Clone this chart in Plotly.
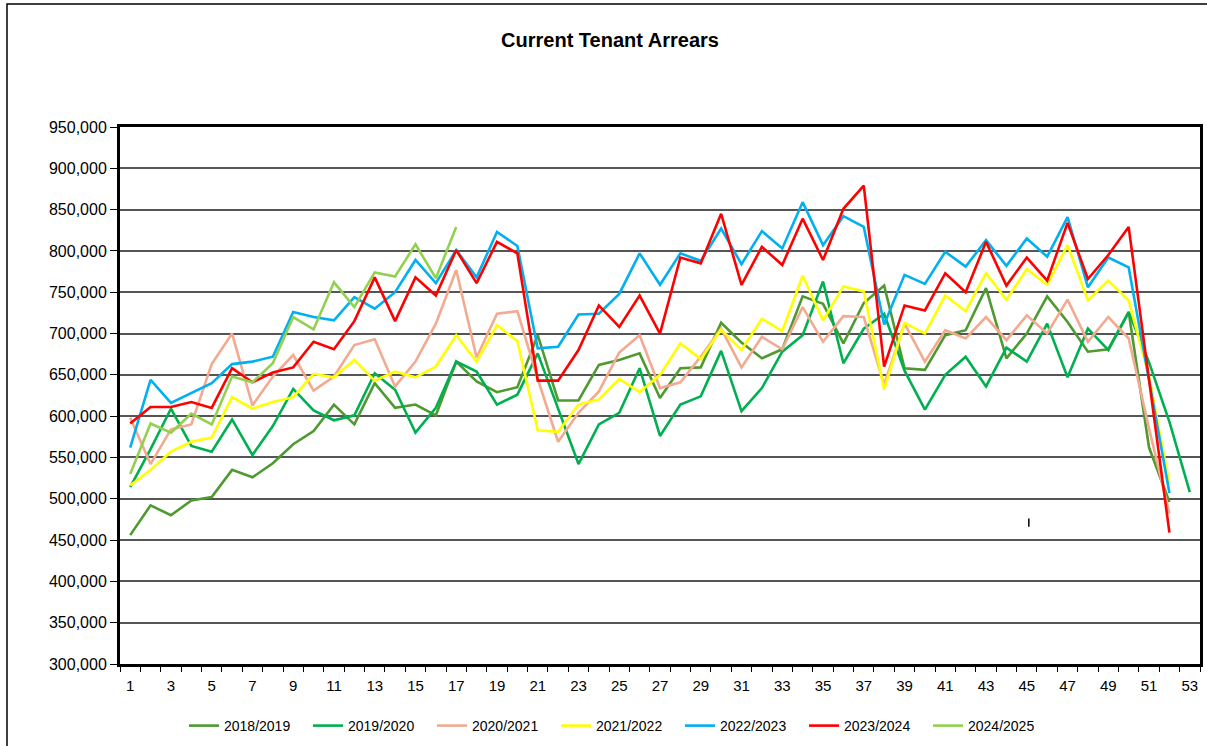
import plotly.graph_objects as go

weeks52 = list(range(1, 53))
weeks53 = list(range(1, 54))

s2018 = [456, 492, 480, 498, 502, 535, 526, 543, 566, 582, 614, 590, 640, 610, 614, 601, 666, 642, 629, 635,
         698, 619, 619, 662, 668, 676, 622, 658, 659, 713, 689, 670, 681, 745, 736, 688, 737, 758, 658, 656,
         698, 704, 755, 670, 700, 745, 714, 678, 681, 726, 562, 496]
s2019 = [514, 560, 609, 564, 557, 596, 553, 588, 633, 607, 595, 601, 652, 632, 580, 610, 666, 654, 614, 626,
         676, 608, 542, 590, 604, 658, 576, 614, 624, 679, 606, 634, 678, 698, 763, 664, 706, 724, 655, 608,
         650, 672, 636, 683, 666, 712, 647, 706, 680, 726, 665, 593, 508]
s2020 = [598, 542, 584, 590, 663, 700, 613, 648, 674, 631, 648, 686, 693, 636, 666, 712, 777, 671, 724, 727,
         645, 569, 604, 630, 677, 698, 634, 641, 672, 706, 659, 696, 681, 732, 690, 721, 720, 638, 712, 666,
         704, 694, 720, 692, 722, 700, 741, 690, 720, 694, 585, 482]
s2021 = [516, 535, 557, 569, 574, 623, 609, 617, 623, 651, 647, 668, 643, 654, 647, 660, 698, 666, 710, 691,
         583, 581, 614, 620, 645, 629, 650, 688, 669, 705, 680, 718, 703, 770, 716, 757, 751, 632, 713, 700,
         746, 727, 773, 741, 778, 759, 807, 740, 764, 740, 648, 518]
s2022 = [562, 644, 616, 628, 640, 663, 666, 672, 726, 720, 716, 744, 730, 750, 789, 761, 801, 768, 823, 806,
         682, 684, 723, 724, 748, 797, 759, 797, 788, 827, 784, 824, 803, 859, 807, 842, 829, 711, 771, 760,
         799, 781, 813, 782, 815, 793, 841, 756, 792, 780, 645, 507]
s2023 = [591, 611, 611, 617, 610, 658, 641, 653, 659, 690, 681, 715, 768, 715, 768, 746, 801, 761, 811, 797,
         643, 643, 680, 734, 708, 746, 700, 792, 785, 845, 759, 805, 783, 839, 789, 851, 879, 660, 734, 728,
         773, 750, 811, 758, 792, 764, 834, 766, 795, 829, 644, 459]
s2024 = [530, 591, 580, 603, 590, 648, 641, 664, 720, 705, 762, 732, 774, 769, 808, 767, 829]

series = [
    ("2018/2019", weeks52, s2018, "#4F9A30"),
    ("2019/2020", weeks53, s2019, "#00B050"),
    ("2020/2021", weeks52, s2020, "#F2AA90"),
    ("2021/2022", weeks52, s2021, "#FFFF00"),
    ("2022/2023", weeks52, s2022, "#00B0F0"),
    ("2023/2024", weeks52, s2023, "#FF0000"),
    ("2024/2025", weeks52[:len(s2024)], s2024, "#92D050"),
]

fig = go.Figure()
for name, xs, vals, color in series:
    fig.add_trace(go.Scatter(
        x=xs, y=[v * 1000 for v in vals], mode="lines", name=name,
        line=dict(color=color, width=2.6),
    ))

W, H = 1207, 746
L, R, T, B = 120, 7, 127, 82
PW, PH = W - L - R, H - T - B

fig.update_layout(
    width=W, height=H,
    paper_bgcolor="white", plot_bgcolor="white",
    margin=dict(l=L, r=R, t=T, b=B, autoexpand=False),
    font=dict(family="Liberation Sans, Arial, sans-serif", color="#000000"),
    title=dict(text="<b>Current Tenant Arrears</b>", x=610 / W, xanchor="center",
               y=1 - 40 / H, yanchor="middle", font=dict(size=20, color="#000")),
    legend=dict(orientation="h", x=(184 - L) / PW, xanchor="left", y=-(710 - (T + PH)) / PH, yanchor="top",
                font=dict(size=14, color="#000"), itemwidth=30, entrywidth=79, entrywidthmode="pixels",
                tracegroupgap=0, bgcolor="rgba(0,0,0,0)"),
    showlegend=True,
)

fig.update_xaxes(
    range=[0.5, 53.5],
    tickmode="array", tickvals=list(range(1, 54, 2)), ticktext=[str(v) for v in range(1, 54, 2)],
    ticks="", showgrid=False, zeroline=False, ticklabelstandoff=6,
    showline=True, linecolor="black", linewidth=3, mirror=True,
    tickfont=dict(size=15, color="#000"),
    minor=dict(tick0=0.5, dtick=1, ticks="outside", ticklen=5, tickcolor="black", tickwidth=1, showgrid=False),
)
fig.update_yaxes(
    range=[300000, 950000], dtick=50000, tick0=300000, tickformat=",",
    showgrid=True, gridcolor="#555555", gridwidth=1.5, zeroline=False,
    showline=True, linecolor="black", linewidth=3, mirror=True,
    ticks="outside", ticklen=7, tickcolor="black",
    tickfont=dict(size=16, color="#000"),
)

# outer chart frame
fig.add_shape(type="rect", xref="paper", yref="paper",
              x0=(7 - L) / PW, x1=(W + 5 - L) / PW, y0=-(H + 5 - (T + PH)) / PH, y1=(T + PH - 4) / PH,
              line=dict(color="black", width=1.5), fillcolor="rgba(0,0,0,0)", layer="below")
# small stray mark
fig.add_shape(type="line", xref="x", yref="y", x0=45.1, x1=45.1, y0=466000, y1=476000,
              line=dict(color="black", width=1.5))

fig.write_html("out.html", config={"displayModeBar": False},
               post_script="document.body.style.margin='0';")
